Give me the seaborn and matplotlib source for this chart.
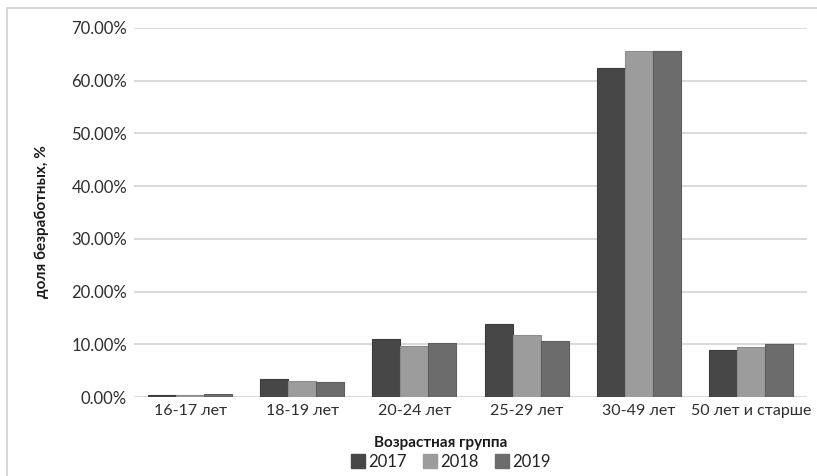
import matplotlib
matplotlib.use("Agg")
import matplotlib.pyplot as plt
from matplotlib.ticker import PercentFormatter, MultipleLocator
from matplotlib.lines import Line2D
from matplotlib.patches import Rectangle
import pandas as pd
import seaborn as sns

# Age groups and unemployment share per year (fractions)
groups = ["16-17 лет", "18-19 лет", "20-24 лет", "25-29 лет", "30-49 лет", "50 лет и старше"]
years = ["2017", "2018", "2019"]
share_2017 = [0.003, 0.035, 0.110, 0.138, 0.624, 0.089]
share_2018 = [0.004, 0.031, 0.097, 0.117, 0.657, 0.094]
share_2019 = [0.006, 0.028, 0.102, 0.107, 0.656, 0.101]
colors = ["#474747", "#9c9c9c", "#6c6c6c"]
edge_colors = ["#3a3a3a", "#8c8c8c", "#5e5e5e"]

df = pd.DataFrame({
    "group": groups * 3,
    "year": [y for y in years for _ in groups],
    "share": share_2017 + share_2018 + share_2019,
})

sns.set_theme(style="white")
plt.rcParams["font.family"] = ["Lato", "DejaVu Sans"]

W, H = 817, 476
fig = plt.figure(figsize=(W / 100, H / 100), dpi=100)
ax = fig.add_axes([134 / W, (H - 397) / H, (807 - 134) / W, (397 - 28) / H])

sns.barplot(data=df, x="group", y="share", hue="year", palette=colors,
            width=0.75, gap=0, ax=ax, legend=False, zorder=3)

for i, cont in enumerate(ax.containers):
    for bar in cont:
        bar.set_edgecolor(edge_colors[i])
        bar.set_linewidth(0.8)

ax.set_ylim(0, 0.70)
ax.set_xlim(-0.5, len(groups) - 0.5)
ax.yaxis.set_major_locator(MultipleLocator(0.10))
ax.yaxis.set_major_formatter(PercentFormatter(xmax=1, decimals=2))
ax.grid(axis="y", color="#d9d9d9", linewidth=1.4, zorder=0)
ax.set_axisbelow(True)
for s in ax.spines.values():
    s.set_visible(False)
ax.tick_params(axis="both", length=0, labelcolor="#2e2e2e")
ax.tick_params(axis="y", pad=5, labelsize=12)
ax.tick_params(axis="x", pad=5, labelsize=11.5)
ax.set_xlabel("")
ax.set_ylabel("")

# Axis titles
fig.text(42 / W, 1 - 222 / H, "доля безработных, %", rotation=90, ha="center", va="center",
         fontsize=11, fontweight="bold", color="#1a1a1a")
fig.text(441 / W, 1 - 443 / H, "Возрастная группа", ha="center", va="center",
         fontsize=11, fontweight="bold", color="#1a1a1a")

# Legend below the axis title
handles = [Line2D([0], [0], marker="s", linestyle="", markersize=10,
                  markerfacecolor=c, markeredgecolor=c) for c in colors]
fig.legend(handles, years, loc="center", bbox_to_anchor=(450 / W, 1 - 462 / H), ncol=3,
           frameon=False, fontsize=12, handletextpad=0.1, columnspacing=0.9,
           handlelength=1.0, borderpad=0, labelcolor="#222222")

# Chart frame
fig.patches.append(Rectangle((7 / W, -0.1), 1.2, 1 - 8 / H + 0.1, transform=fig.transFigure,
                             fill=False, edgecolor="#d0d0d0", linewidth=1.2))

fig.savefig("out.png", dpi=100, facecolor="white")
